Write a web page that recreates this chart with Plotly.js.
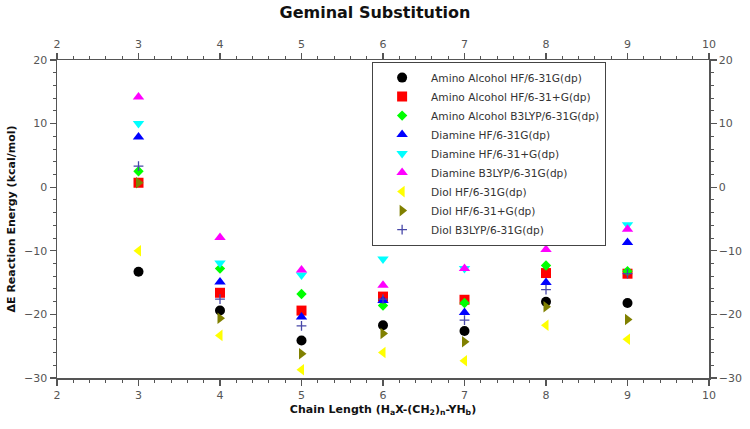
<!DOCTYPE html>
<html>
<head>
<meta charset="utf-8">
<script src="https://cdn.plot.ly/plotly-3.0.1.min.js"></script>
<style>html,body{margin:0;padding:0;background:#fff}#chart{width:750px;height:429px}</style>
</head>
<body>
<div id="chart"></div>
<script>
const chainLength = [3, 4, 5, 6, 7, 8, 9];
const seriesNames = [
  "Amino Alcohol HF/6-31G(dp)",
  "Amino Alcohol HF/6-31+G(dp)",
  "Amino Alcohol B3LYP/6-31G(dp)",
  "Diamine HF/6-31G(dp)",
  "Diamine HF/6-31+G(dp)",
  "Diamine B3LYP/6-31G(dp)",
  "Diol HF/6-31G(dp)",
  "Diol HF/6-31+G(dp)",
  "Diol B3LYP/6-31G(dp)"
];
const aminoAlcoholHF = [-13.3, -19.4, -24.1, -21.7, -22.6, -18.0, -18.2];
const aminoAlcoholHFplus = [0.7, -16.6, -19.4, -17.2, -17.7, -13.5, -13.6];
const aminoAlcoholB3LYP = [2.5, -12.8, -16.8, -18.6, -18.2, -12.3, -13.2];
const diamineHF = [7.9, -14.9, -20.4, -17.8, -19.7, -15.0, -8.7];
const diamineHFplus = [10.0, -11.9, -13.8, -11.3, -12.8, -8.6, -5.9];
const diamineB3LYP = [14.2, -7.9, -13.0, -15.4, -12.8, -9.8, -6.6];
const diolHF = [-10.0, -23.3, -28.7, -26.0, -27.3, -21.7, -23.9];
const diolHFplus = [0.7, -20.6, -26.2, -23.0, -24.3, -18.8, -20.8];
const diolB3LYP = [3.3, -17.6, -21.8, -17.6, -20.9, -16.1, -13.6];

const allValues = [aminoAlcoholHF, aminoAlcoholHFplus, aminoAlcoholB3LYP, diamineHF, diamineHFplus, diamineB3LYP, diolHF, diolHFplus, diolB3LYP];
const styles = [
  {symbol: "circle", color: "#000000", size: 10},
  {symbol: "square", color: "#ff0000", size: 10},
  {symbol: "diamond", color: "#00ff00", size: 8},
  {symbol: "triangle-up", color: "#0000ff", size: 10},
  {symbol: "triangle-down", color: "#00ffff", size: 10},
  {symbol: "triangle-up", color: "#ff00ff", size: 10},
  {symbol: "triangle-left", color: "#ffff00", size: 10},
  {symbol: "triangle-right", color: "#808000", size: 10},
  {symbol: "cross-thin", color: "#4848a8", size: 7}
];

const traces = allValues.map((vals, i) => ({
  type: "scatter",
  mode: "markers",
  name: seriesNames[i],
  x: chainLength,
  y: vals,
  marker: {
    symbol: styles[i].symbol,
    color: styles[i].color,
    size: styles[i].size,
    line: styles[i].symbol === "cross-thin" ? {color: styles[i].color, width: 1.3} : {width: 0}
  }
}));
// invisible trace to activate secondary axes
traces.push({type: "scatter", mode: "markers", x: [2], y: [20], xaxis: "x2", yaxis: "y2", showlegend: false, hoverinfo: "skip", marker: {opacity: 0}});

const axisCommon = {
  showgrid: false, zeroline: false,
  showline: true, linecolor: "#555", linewidth: 1.5,
  ticks: "outside", ticklen: 6, tickwidth: 1.2, tickcolor: "#555",
  tickfont: {family: "DejaVu Sans", size: 11, color: "#555"},
  minor: {ticks: "outside", ticklen: 3, tickcolor: "#555", tickwidth: 1}
};

const layout = {
  width: 750, height: 429,
  margin: {l: 57, r: 41, t: 60, b: 51},
  paper_bgcolor: "#fff", plot_bgcolor: "#fff",
  font: {family: "DejaVu Sans", color: "#333"},
  title: {text: "<b>Geminal Substitution</b>", font: {family: "DejaVu Sans", size: 16, color: "#111"}, x: 0.5, xanchor: "center", y: 0.97, yanchor: "middle"},
  xaxis: Object.assign({}, axisCommon, {
    range: [2, 10], dtick: 1, tick0: 2,
    minor: Object.assign({}, axisCommon.minor, {dtick: 0.2}),
    title: {text: "<b>Chain Length (H<sub>a</sub>X-(CH<sub>2</sub>)<sub>n</sub>-YH<sub>b</sub>)</b>", font: {family: "DejaVu Sans", size: 11, color: "#111"}, standoff: 4}
  }),
  yaxis: Object.assign({}, axisCommon, {
    range: [-30, 20], dtick: 10, tick0: 0,
    minor: Object.assign({}, axisCommon.minor, {dtick: 2}),
    title: {text: "<b>ΔE Reaction Energy (kcal/mol)</b>", font: {family: "DejaVu Sans", size: 11, color: "#111"}, standoff: 6}
  }),
  xaxis2: Object.assign({}, axisCommon, {
    overlaying: "x", side: "top", range: [2, 10], dtick: 1, tick0: 2,
    minor: Object.assign({}, axisCommon.minor, {dtick: 0.2})
  }),
  yaxis2: Object.assign({}, axisCommon, {
    overlaying: "y", side: "right", range: [-30, 20], dtick: 10, tick0: 0,
    minor: Object.assign({}, axisCommon.minor, {dtick: 2})
  }),
  legend: {
    x: 0.483, y: 0.994, xanchor: "left", yanchor: "top",
    bgcolor: "#fff", bordercolor: "#444", borderwidth: 1.2,
    font: {family: "DejaVu Sans", size: 10.6, color: "#333"},
    itemwidth: 48,
    tracegroupgap: 0
  },
  showlegend: true
};

Plotly.newPlot("chart", traces, layout, {displayModeBar: false, staticPlot: true});
</script>
</body>
</html>
